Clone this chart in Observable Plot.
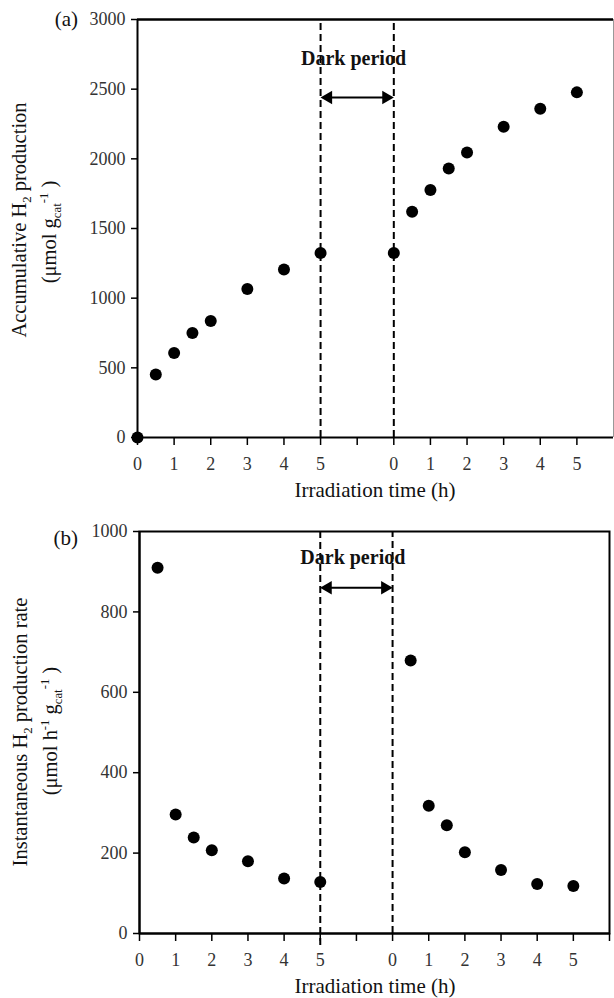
<!DOCTYPE html>
<html>
<head>
<meta charset="utf-8">
<script src="https://cdn.jsdelivr.net/npm/d3@7"></script>
<script src="https://cdn.jsdelivr.net/npm/@observablehq/plot@0.6"></script>
<style>
  body { margin: 0; background: #fff; }
  #chart svg { display: block; }
</style>
</head>
<body>
<div id="chart"></div>
<script>
// ---- data ----
const periodTimes = [0, 0.5, 1, 1.5, 2, 3, 4, 5];            // h, both irradiation periods
const accumBefore = [0, 452, 607, 750, 836, 1065, 1205, 1325]; // µmol g_cat^-1
const accumAfter  = [1325, 1620, 1777, 1930, 2045, 2230, 2360, 2477];
const rateTimes   = [0.5, 1, 1.5, 2, 3, 4, 5];
const rateBefore  = [910, 296, 239, 207, 180, 137, 128];      // µmol h^-1 g_cat^-1
const rateAfter   = [679, 318, 269, 202, 158, 123, 118];
const secondPeriodOffset = 7;                                 // axis position of second "0"
const xTickValues = [0,1,2,3,4,5,6,7,8,9,10,11,12,13];
const xTickLabels = ["0","1","2","3","4","5","","0","1","2","3","4","5",""];
const yTicksA = [0, 500, 1000, 1500, 2000, 2500, 3000];
const yTicksB = [0, 200, 400, 600, 800, 1000];
const darkBounds = [5, 7];
const darkLabel = "Dark period";
const xTitle = "Irradiation time (h)";

const ptsA = [
  ...periodTimes.map((t, i) => ({x: t, y: accumBefore[i]})),
  ...periodTimes.map((t, i) => ({x: t + secondPeriodOffset, y: accumAfter[i]}))
];
const ptsB = [
  ...rateTimes.map((t, i) => ({x: t, y: rateBefore[i]})),
  ...rateTimes.map((t, i) => ({x: t + secondPeriodOffset, y: rateAfter[i]}))
];

const FONT = "'Liberation Serif', 'Times New Roman', serif";

function panel({height, mt, mb, ml, mr, yMax, yTicks, pts, textY, arrowY, ruleBelow, fullFrame, xTicks}) {
  const head = 0.21;
  return Plot.plot({
    width: 614, height,
    marginTop: mt, marginBottom: mb, marginLeft: ml, marginRight: mr,
    style: {fontFamily: FONT, fontSize: "18px", color: "#111", background: "#fff", overflow: "visible"},
    x: {domain: [0, 13]},
    y: {domain: [0, yMax]},
    marks: [
      Plot.ruleX(darkBounds, {x: d => d, y1: d => d === 5 ? ruleBelow : 0, y2: yMax,
        stroke: "#000", strokeWidth: 2, strokeDasharray: "7,4"}),
      fullFrame ? Plot.frame({stroke: "#000", strokeWidth: 2})
                : Plot.ruleX([13], {stroke: "#999", strokeWidth: 1}),
      fullFrame ? null : Plot.ruleY([yMax], {stroke: "#000", strokeWidth: 2.5}),
      Plot.ruleY([0], {stroke: "#000", strokeWidth: 2}),
      Plot.ruleX([0], {stroke: "#000", strokeWidth: 2}),
      Plot.axisY({ticks: yTicks, tickSize: 6, tickPadding: 6, fontSize: 18, fill: "#333",
        stroke: "#000", strokeWidth: 1.5, label: null, tickFormat: d => String(d)}),
      Plot.axisX({ticks: xTicks, tickSize: 8, tickPadding: 12, fontSize: 18, fill: "#333",
        stroke: "#000", strokeWidth: 1.5, label: null,
        tickFormat: d => xTickLabels[xTickValues.indexOf(d)]}),
      Plot.dot(pts, {x: "x", y: "y", r: 6, fill: "#000", stroke: null}),
      Plot.text([darkLabel], {x: 5.9, y: textY, text: d => d, fontWeight: "bold", fontSize: 20,
        fill: "#111"}),
      Plot.link([0], {x1: darkBounds[0] + 0.15, x2: darkBounds[1] - 0.15, y1: arrowY, y2: arrowY,
        stroke: "#000", strokeWidth: 2}),
      Plot.dot([darkBounds[0] + head, darkBounds[1] - head], {x: d => d, y: arrowY,
        symbol: "triangle", r: 5, fill: "#000", stroke: null,
        rotate: d => d < 6 ? -90 : 90})
    ]
  });
}

function addText(svg, x, y, segments, {size = 21, rotate = false, anchor = "middle", weight = null} = {}) {
  const t = d3.select(svg).append("text")
    .attr("transform", `translate(${x},${y})` + (rotate ? " rotate(-90)" : ""))
    .attr("text-anchor", anchor)
    .attr("font-family", FONT)
    .attr("font-size", size)
    .attr("fill", "#111");
  if (weight) t.attr("font-weight", weight);
  let shift = 0;
  for (const [str, kind] of segments) {
    const target = kind === "sub" ? size * 0.25 : kind === "sup" ? -size * 0.38 : 0;
    t.append("tspan")
      .attr("dy", target - shift)
      .attr("font-size", kind ? size * 0.62 : size)
      .text(str);
    shift = target;
  }
  return t;
}

const chart = document.getElementById("chart");

// Panel (a)
const svgA = panel({height: 497, mt: 19, mb: 60, ml: 137, mr: 1, yMax: 3000, yTicks: yTicksA,
  pts: ptsA, textY: 2720, arrowY: 2440, ruleBelow: 0, fullFrame: false,
  xTicks: xTickValues.slice(0, 13)});
chart.appendChild(svgA);
addText(svgA, 78, 26, [["(a)"]], {size: 21, anchor: "end"});
addText(svgA, 26, 220, [["Accumulative H"], ["2", "sub"], [" production"]], {rotate: true, size: 20.5});
addText(svgA, 56, 232, [["(μmol g"], ["cat", "sub"], ["-1", "sup"], [" )"]], {rotate: true, size: 20.5});
addText(svgA, 375, 497, [[xTitle]], {size: 21});

// Panel (b)
const svgB = panel({height: 501, mt: 34, mb: 65, ml: 139, mr: 5, yMax: 1000, yTicks: yTicksB,
  pts: ptsB, textY: 935, arrowY: 860, ruleBelow: -30, fullFrame: true,
  xTicks: xTickValues});
chart.appendChild(svgB);
addText(svgB, 78, 48, [["(b)"]], {size: 21, anchor: "end"});
addText(svgB, 27, 235, [["Instantaneous H"], ["2", "sub"], [" production rate"]], {rotate: true, size: 20.5});
addText(svgB, 57, 234, [["(μmol h"], ["-1", "sup"], [" g"], ["cat", "sub"], ["-1", "sup"], [" )"]], {rotate: true, size: 20.5});
addText(svgB, 375, 496, [[xTitle]], {size: 21});
</script>
</body>
</html>
